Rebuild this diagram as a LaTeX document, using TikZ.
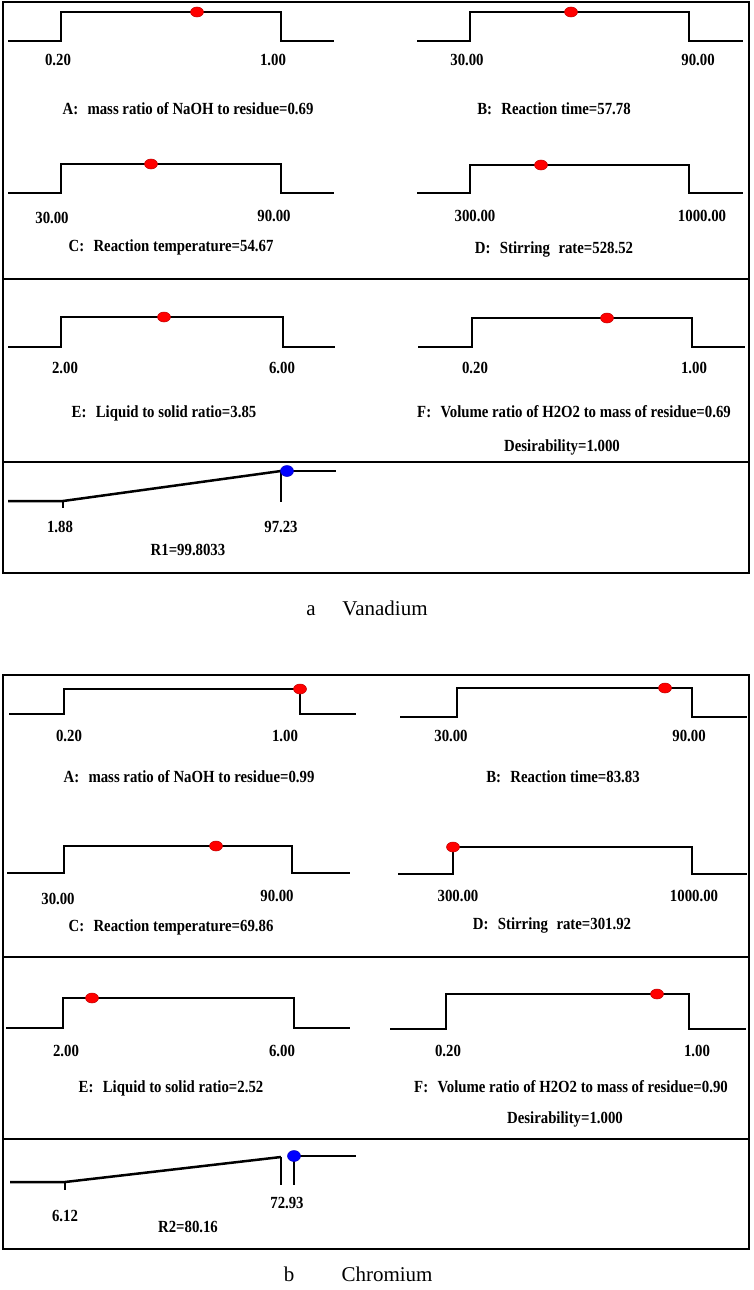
\documentclass[tikz,border=0pt]{standalone}
\usepackage{fontspec}
\setmainfont{Liberation Serif}
\newfontfamily\labfont{Liberation Serif}[FakeStretch=0.87]
\usetikzlibrary{shapes.geometric}
\newcommand\steprof[6]{\draw[prof] (#1,#6)--(#2,#6)--(#2,#5)--(#3,#5)--(#3,#6)--(#4,#6);}
\begin{document}
\begin{tikzpicture}[x=1pt,y=-1pt,
  prof/.style={line width=2.5pt, line join=miter},
  frame/.style={line width=2.2pt},
  lbl/.style={font=\labfont\bfseries\fontsize{17}{19}\selectfont, inner sep=0pt, anchor=base},
  figtitle/.style={font=\fontsize{21}{24}\selectfont, inner sep=0pt, anchor=base},
  rdot/.style={ellipse, fill=red, draw=red!75!black, line width=0.5pt, minimum width=13pt, minimum height=10pt, inner sep=0pt},
  bdot/.style={ellipse, fill=blue, draw=blue!75!black, line width=0.5pt, minimum width=13pt, minimum height=11pt, inner sep=0pt}
]
\useasboundingbox (0,0) rectangle (754,1290);
\fill[white] (0,0) rectangle (754,1290);
% ================= Panel a =================
\draw[frame] (3,2) rectangle (749,573);
\draw[frame] (3,279) -- (749,279);
\draw[frame] (3,462) -- (749,462);
% A
\steprof{8}{61}{281}{334}{12}{41}
\node[rdot] (aAd) at (197,12) {};
\node[lbl] (aAl) at (58,66) {0.20};
\node[lbl] (aAr) at (273,66) {1.00};
\node[lbl] (aAc) at (188,114) {A:\hspace{0.55em}mass ratio of NaOH to residue=0.69};
% B
\steprof{417}{470}{689}{743}{12}{41}
\node[rdot] (aBd) at (571,12) {};
\node[lbl] (aBl) at (467,66) {30.00};
\node[lbl] (aBr) at (698,66) {90.00};
\node[lbl] (aBc) at (554,114) {B:\hspace{0.55em}Reaction time=57.78};
% C
\steprof{8}{61}{281}{334}{164}{193}
\node[rdot] (aCd) at (151,164) {};
\node[lbl] (aCl) at (52,223) {30.00};
\node[lbl] (aCr) at (274,221) {90.00};
\node[lbl] (aCc) at (171,251) {C:\hspace{0.55em}Reaction temperature=54.67};
% D
\steprof{417}{470}{689}{743}{165}{193}
\node[rdot] (aDd) at (541,165) {};
\node[lbl] (aDl) at (475,221) {300.00};
\node[lbl] (aDr) at (702,221) {1000.00};
\node[lbl] (aDc) at (554,253) {D:\hspace{0.55em}Stirring\hspace{0.5em}rate=528.52};
% E
\steprof{8}{61}{283}{335}{317}{347}
\node[rdot] (aEd) at (164,317) {};
\node[lbl] (aEl) at (65,373) {2.00};
\node[lbl] (aEr) at (282,373) {6.00};
\node[lbl] (aEc) at (164,417) {E:\hspace{0.55em}Liquid to solid ratio=3.85};
% F
\steprof{418}{472}{692}{745}{318}{347}
\node[rdot] (aFd) at (607,318) {};
\node[lbl] (aFl) at (475,373) {0.20};
\node[lbl] (aFr) at (694,373) {1.00};
\node[lbl] (aFc) at (574,417) {F:\hspace{0.55em}Volume ratio of H2O2 to mass of residue=0.69};
\node[lbl] (aDes) at (562,451) {Desirability=1.000};
% R1
\coordinate (r1a) at (8,501);
\coordinate (r1b) at (63,501);
\coordinate (r1bt) at (63,508);
\coordinate (r1c) at (281,471);
\coordinate (r1cb) at (281,502);
\coordinate (r1e) at (336,471);
\coordinate (r1g) at (287,471);
\draw[prof] (r1a) -- (r1b) -- (r1c);
\draw[prof] (r1b) -- (r1bt);
\draw[prof] (r1c) -- (r1cb);
\draw[prof] (r1g) -- (r1e);
\node[bdot] (r1d) at (287,471) {};
\node[lbl] (aRl) at (60,532) {1.88};
\node[lbl] (aRr) at (281,532) {97.23};
\node[lbl] (aRc) at (188,555) {R1=99.8033};
\node[figtitle] (ta1) at (311,615) {a};
\node[figtitle] (ta2) at (385,615) {Vanadium};
% ================= Panel b =================
\draw[frame] (3,675) rectangle (749,1249);
\draw[frame] (3,957) -- (749,957);
\draw[frame] (3,1139) -- (749,1139);
% A
\steprof{9}{64}{300}{356}{689}{714}
\node[rdot] (bAd) at (300,689) {};
\node[lbl] (bAl) at (69,741) {0.20};
\node[lbl] (bAr) at (285,741) {1.00};
\node[lbl] (bAc) at (189,782) {A:\hspace{0.55em}mass ratio of NaOH to residue=0.99};
% B
\steprof{400}{457}{692}{747}{688}{717}
\node[rdot] (bBd) at (665,688) {};
\node[lbl] (bBl) at (451,741) {30.00};
\node[lbl] (bBr) at (689,741) {90.00};
\node[lbl] (bBc) at (563,782) {B:\hspace{0.55em}Reaction time=83.83};
% C
\steprof{7}{64}{292}{350}{846}{873}
\node[rdot] (bCd) at (216,846) {};
\node[lbl] (bCl) at (58,904) {30.00};
\node[lbl] (bCr) at (277,901) {90.00};
\node[lbl] (bCc) at (171,931) {C:\hspace{0.55em}Reaction temperature=69.86};
% D
\steprof{398}{453}{692}{747}{847}{874}
\node[rdot] (bDd) at (453,847) {};
\node[lbl] (bDl) at (458,901) {300.00};
\node[lbl] (bDr) at (694,901) {1000.00};
\node[lbl] (bDc) at (552,929) {D:\hspace{0.55em}Stirring\hspace{0.5em}rate=301.92};
% E
\steprof{6}{63}{294}{350}{998}{1028}
\node[rdot] (bEd) at (92,998) {};
\node[lbl] (bEl) at (66,1056) {2.00};
\node[lbl] (bEr) at (282,1056) {6.00};
\node[lbl] (bEc) at (171,1092) {E:\hspace{0.55em}Liquid to solid ratio=2.52};
% F
\steprof{390}{446}{689}{746}{994}{1029}
\node[rdot] (bFd) at (657,994) {};
\node[lbl] (bFl) at (448,1056) {0.20};
\node[lbl] (bFr) at (697,1056) {1.00};
\node[lbl] (bFc) at (571,1092) {F:\hspace{0.55em}Volume ratio of H2O2 to mass of residue=0.90};
\node[lbl] (bDes) at (565,1123) {Desirability=1.000};
% R2
\coordinate (r2a) at (10,1182);
\coordinate (r2b) at (65,1182);
\coordinate (r2bt) at (65,1190);
\coordinate (r2c) at (281,1157);
\coordinate (r2cb) at (281,1185);
\coordinate (r2f) at (294,1185);
\coordinate (r2g) at (294,1156);
\coordinate (r2e) at (356,1156);
\draw[prof] (r2a) -- (r2b) -- (r2c);
\draw[prof] (r2b) -- (r2bt);
\draw[prof] (r2c) -- (r2cb);
\draw[prof] (r2g) -- (r2f);
\draw[prof] (r2g) -- (r2e);
\node[bdot] (r2d) at (294,1156) {};
\node[lbl] (bRr) at (287,1208) {72.93};
\node[lbl] (bRl) at (65,1221) {6.12};
\node[lbl] (bRc) at (188,1232) {R2=80.16};
\node[figtitle] (tb1) at (289,1281) {b};
\node[figtitle] (tb2) at (387,1281) {Chromium};
\end{tikzpicture}
\end{document}
